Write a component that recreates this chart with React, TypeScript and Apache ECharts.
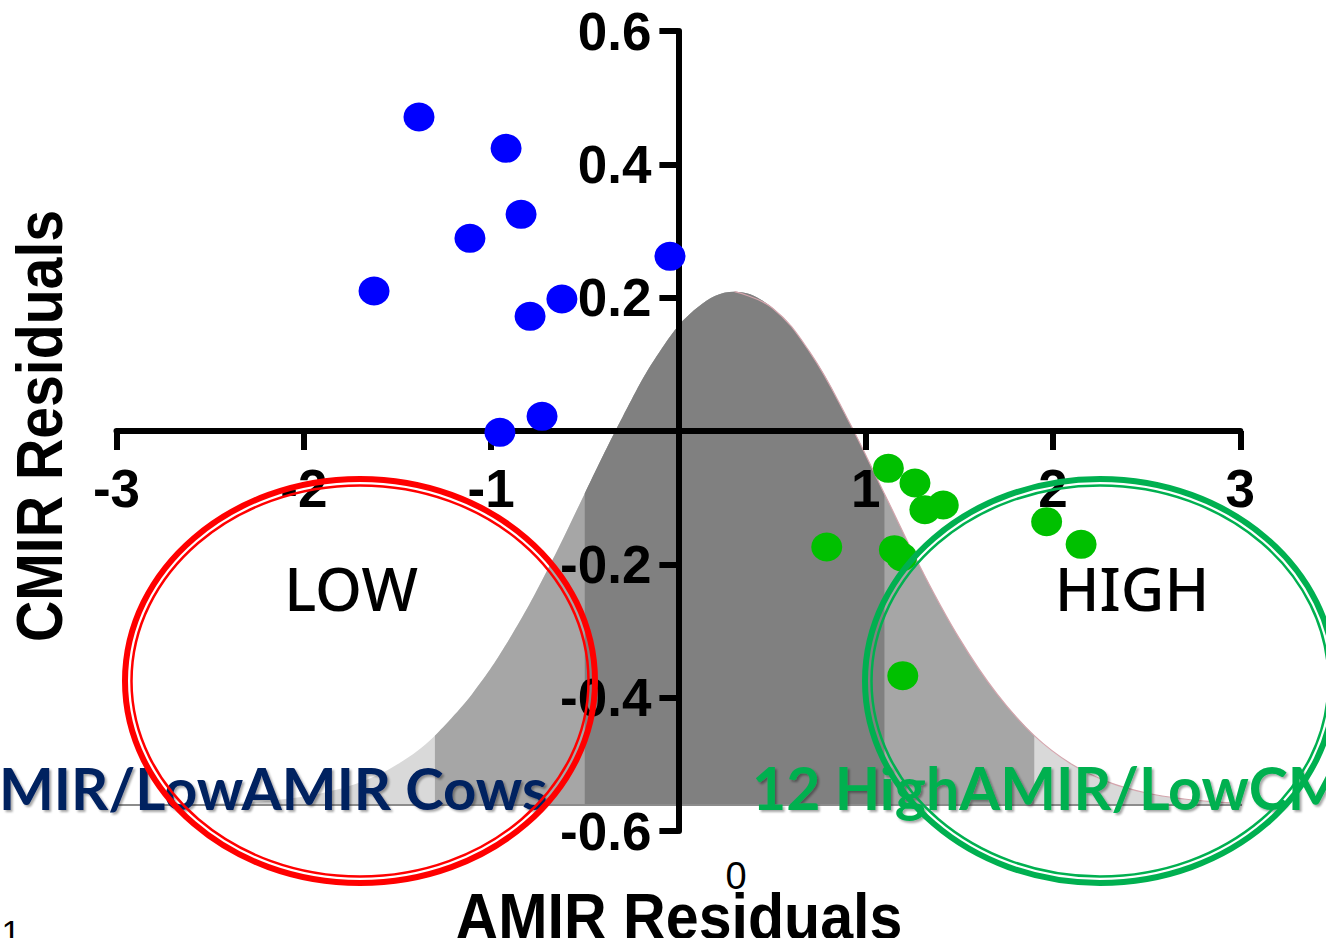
import React, { useEffect, useRef } from "react";
import * as echarts from "echarts";

// Low CMIR / Low AMIR group (blue)
const lowGroupX = [-1.385, -0.92, -0.84, -1.113, -1.625, -0.622, -0.792, -0.045, -0.728, -0.953];
const lowGroupY = [0.471, 0.424, 0.325, 0.289, 0.21, 0.198, 0.172, 0.262, 0.022, -0.002];

// High AMIR / Low CMIR group (green)
const highGroupX = [1.121, 1.263, 1.316, 1.414, 0.792, 1.153, 1.192, 1.966, 2.15, 1.198];
const highGroupY = [-0.056, -0.078, -0.118, -0.111, -0.174, -0.178, -0.189, -0.136, -0.17, -0.367];

// Distribution curve
const curveX = [-3.7, -3.5, -3.3, -3.1, -2.9, -2.7, -2.5, -2.3, -2.1, -1.9, -1.7, -1.5, -1.3, -1.1, -0.9, -0.7, -0.5, -0.3, -0.1, 0.1, 0.3, 0.5, 0.7, 0.9, 1.1, 1.3, 1.5, 1.7, 1.9, 2.1, 2.3, 2.5, 2.7, 2.9, 3.1, 3.3, 3.5, 3.7];
const curveY = [-0.561, -0.561, -0.561, -0.561, -0.561, -0.56, -0.559, -0.557, -0.552, -0.543, -0.527, -0.5, -0.457, -0.394, -0.311, -0.209, -0.094, 0.02, 0.119, 0.185, 0.209, 0.185, 0.119, 0.02, -0.094, -0.209, -0.311, -0.394, -0.457, -0.5, -0.527, -0.543, -0.552, -0.557, -0.559, -0.56, -0.561, -0.561];
const curveBase = -0.561;
const outerBand = [-1.3, 1.9];
const innerBand = [-0.5, 1.1];
const curvePeakX = 0.3;

const xMin = -3;
const xMax = 3;
const xStep = 1;
const yMin = -0.6;
const yMax = 0.6;
const yStep = 0.2;

const zip = (xs: number[], ys: number[]) => xs.map((x, i) => [x, ys[i]]);
const curvePts = zip(curveX, curveY);
const bandPts = (lo: number, hi: number) =>
  curvePts.filter(([x]) => x >= lo - 1e-9 && x <= hi + 1e-9);

export default function App() {
  const ref = useRef<HTMLDivElement>(null);

  useEffect(() => {
    if (!ref.current) return;
    const W = 1326;
    const H = 938;
    const gLeft = 116.5;
    const gRight = 85.7;
    const gTop = 31;
    const gBottom = 107;
    const gW = W - gLeft - gRight;
    const gH = H - gTop - gBottom;
    // move axes so that they cross at (0, 0)
    const yAxisOffset = -((0 - xMin) / (xMax - xMin)) * gW;
    const xAxisOffset = -((0 - yMin) / (yMax - yMin)) * gH;

    const chart = echarts.init(ref.current, undefined, { renderer: "svg" });
    const axisFont = {
      fontSize: 53,
      fontWeight: "bold" as const,
      fontFamily: "Liberation Sans, Arial, sans-serif",
      color: "#000",
    };
    const areaSeries = (data: number[][], color: string) => ({
      type: "line",
      data,
      smooth: 0.4,
      showSymbol: false,
      symbol: "none",
      clip: false,
      silent: true,
      z: 1,
      lineStyle: { width: 0, color },
      areaStyle: { color, opacity: 1, origin: curveBase },
    });

    const shadow = {
      textShadowColor: "rgba(0,0,0,0.35)",
      textShadowBlur: 2,
      textShadowOffsetX: 2,
      textShadowOffsetY: 2,
    };

    chart.setOption({
      animation: false,
      backgroundColor: "#ffffff",
      grid: { left: gLeft, right: gRight, top: gTop, bottom: gBottom, containLabel: false },
      xAxis: {
        type: "value",
        min: xMin,
        max: xMax,
        interval: xStep,
        z: 3,
        offset: xAxisOffset,
        axisLine: { onZero: false, lineStyle: { color: "#000", width: 6 } },
        axisTick: { show: true, length: 19, lineStyle: { color: "#000", width: 6 } },
        axisLabel: {
          ...axisFont,
          margin: 31,
          formatter: (v: number) => (Math.abs(v) < 1e-9 ? "" : String(Math.round(v))),
        },
        splitLine: { show: false },
      },
      yAxis: {
        type: "value",
        min: yMin,
        max: yMax,
        interval: yStep,
        z: 3,
        offset: yAxisOffset,
        axisLine: { onZero: false, lineStyle: { color: "#000", width: 6 } },
        axisTick: { show: true, length: 19, lineStyle: { color: "#000", width: 6 } },
        axisLabel: {
          ...axisFont,
          margin: 27,
          formatter: (v: number) => (Math.abs(v) < 1e-9 ? "" : v.toFixed(1)),
        },
        splitLine: { show: false },
      },
      series: [
        areaSeries(curvePts, "#d9d9d9"),
        areaSeries(bandPts(outerBand[0], outerBand[1]), "#a6a6a6"),
        areaSeries(bandPts(innerBand[0], innerBand[1]), "#808080"),
        {
          type: "line",
          data: bandPts(curvePeakX, curveX[curveX.length - 1]),
          smooth: 0.4,
          showSymbol: false,
          symbol: "none",
          clip: false,
          silent: true,
          z: 1,
          lineStyle: { width: 1.2, color: "#d4a5ad" },
        },
        {
          type: "line",
          data: [
            [curveX[0] - 0.1, curveBase],
            [curveX[curveX.length - 1] + 0.1, curveBase],
          ],
          showSymbol: false,
          symbol: "none",
          clip: false,
          silent: true,
          z: 1,
          lineStyle: { width: 2, color: "#8c8c8c" },
        },
        {
          type: "scatter",
          data: zip(lowGroupX, lowGroupY),
          symbol: "circle",
          symbolSize: [31, 29],
          itemStyle: { color: "#0000ff", opacity: 1 },
          z: 4,
        },
        {
          type: "scatter",
          data: zip(highGroupX, highGroupY),
          symbol: "circle",
          symbolSize: [31, 29],
          itemStyle: { color: "#00c000", opacity: 1 },
          z: 4,
        },
      ],
      graphic: [
        {
          type: "text",
          x: -1,
          y: 787,
          z: 50,
          style: {
            text: "MIR/LowAMIR Cows",
            fill: "#002060",
            font: "bold 58px Lato, 'Open Sans', sans-serif",
            align: "left",
            verticalAlign: "middle",
            ...shadow,
          },
        },
        {
          type: "text",
          x: 752,
          y: 787,
          z: 50,
          style: {
            text: "12 HighAMIR/LowCM",
            fill: "#00b050",
            font: "bold 59px Lato, 'Open Sans', sans-serif",
            align: "left",
            verticalAlign: "middle",
            ...shadow,
          },
        },
        {
          type: "text",
          x: 351,
          y: 588,
          z: 50,
          style: {
            text: "LOW",
            fill: "#000",
            font: "500 60px 'Noto Sans', 'Open Sans', sans-serif",
            align: "center",
            verticalAlign: "middle",
          },
        },
        {
          type: "text",
          x: 1132,
          y: 588,
          z: 50,
          style: {
            text: "HIGH",
            fill: "#000",
            font: "500 60px 'Noto Sans', 'Open Sans', sans-serif",
            align: "center",
            verticalAlign: "middle",
          },
        },
        {
          type: "ellipse",
          z: 60,
          shape: { cx: 360, cy: 681, rx: 235, ry: 202 },
          style: { fill: "none", stroke: "#ff0000", lineWidth: 6 },
        },
        {
          type: "ellipse",
          z: 60,
          shape: { cx: 360, cy: 681, rx: 228.5, ry: 195.5 },
          style: { fill: "none", stroke: "#ff0000", lineWidth: 2.5 },
        },
        {
          type: "ellipse",
          z: 60,
          shape: { cx: 1100, cy: 681, rx: 235, ry: 202 },
          style: { fill: "none", stroke: "#00b050", lineWidth: 6 },
        },
        {
          type: "ellipse",
          z: 60,
          shape: { cx: 1100, cy: 681, rx: 228.5, ry: 195.5 },
          style: { fill: "none", stroke: "#00b050", lineWidth: 2.5 },
        },
        {
          type: "text",
          x: 40,
          y: 426,
          rotation: Math.PI / 2,
          scaleX: 0.88,
          z: 50,
          style: {
            text: "CMIR Residuals",
            fill: "#000",
            font: "bold 65px 'Liberation Sans', Arial, sans-serif",
            align: "center",
            verticalAlign: "middle",
          },
        },
        {
          type: "text",
          x: 679,
          y: 917,
          scaleX: 0.91,
          z: 50,
          style: {
            text: "AMIR Residuals",
            fill: "#000",
            font: "bold 65px 'Liberation Sans', Arial, sans-serif",
            align: "center",
            verticalAlign: "middle",
          },
        },
        {
          type: "text",
          x: 736,
          y: 876,
          z: 50,
          style: {
            text: "0",
            fill: "#000",
            font: "38px 'Liberation Sans', Arial, sans-serif",
            align: "center",
            verticalAlign: "middle",
          },
        },
        {
          type: "text",
          x: 11,
          y: 932,
          z: 50,
          style: {
            text: "1",
            fill: "#000",
            font: "34px 'Liberation Sans', Arial, sans-serif",
            align: "center",
            verticalAlign: "middle",
          },
        },
      ],
    });
    return () => chart.dispose();
  }, []);

  return (
    <div
      ref={ref}
      style={{ position: "absolute", left: 0, top: 0, width: 1326, height: 938 }}
    />
  );
}
